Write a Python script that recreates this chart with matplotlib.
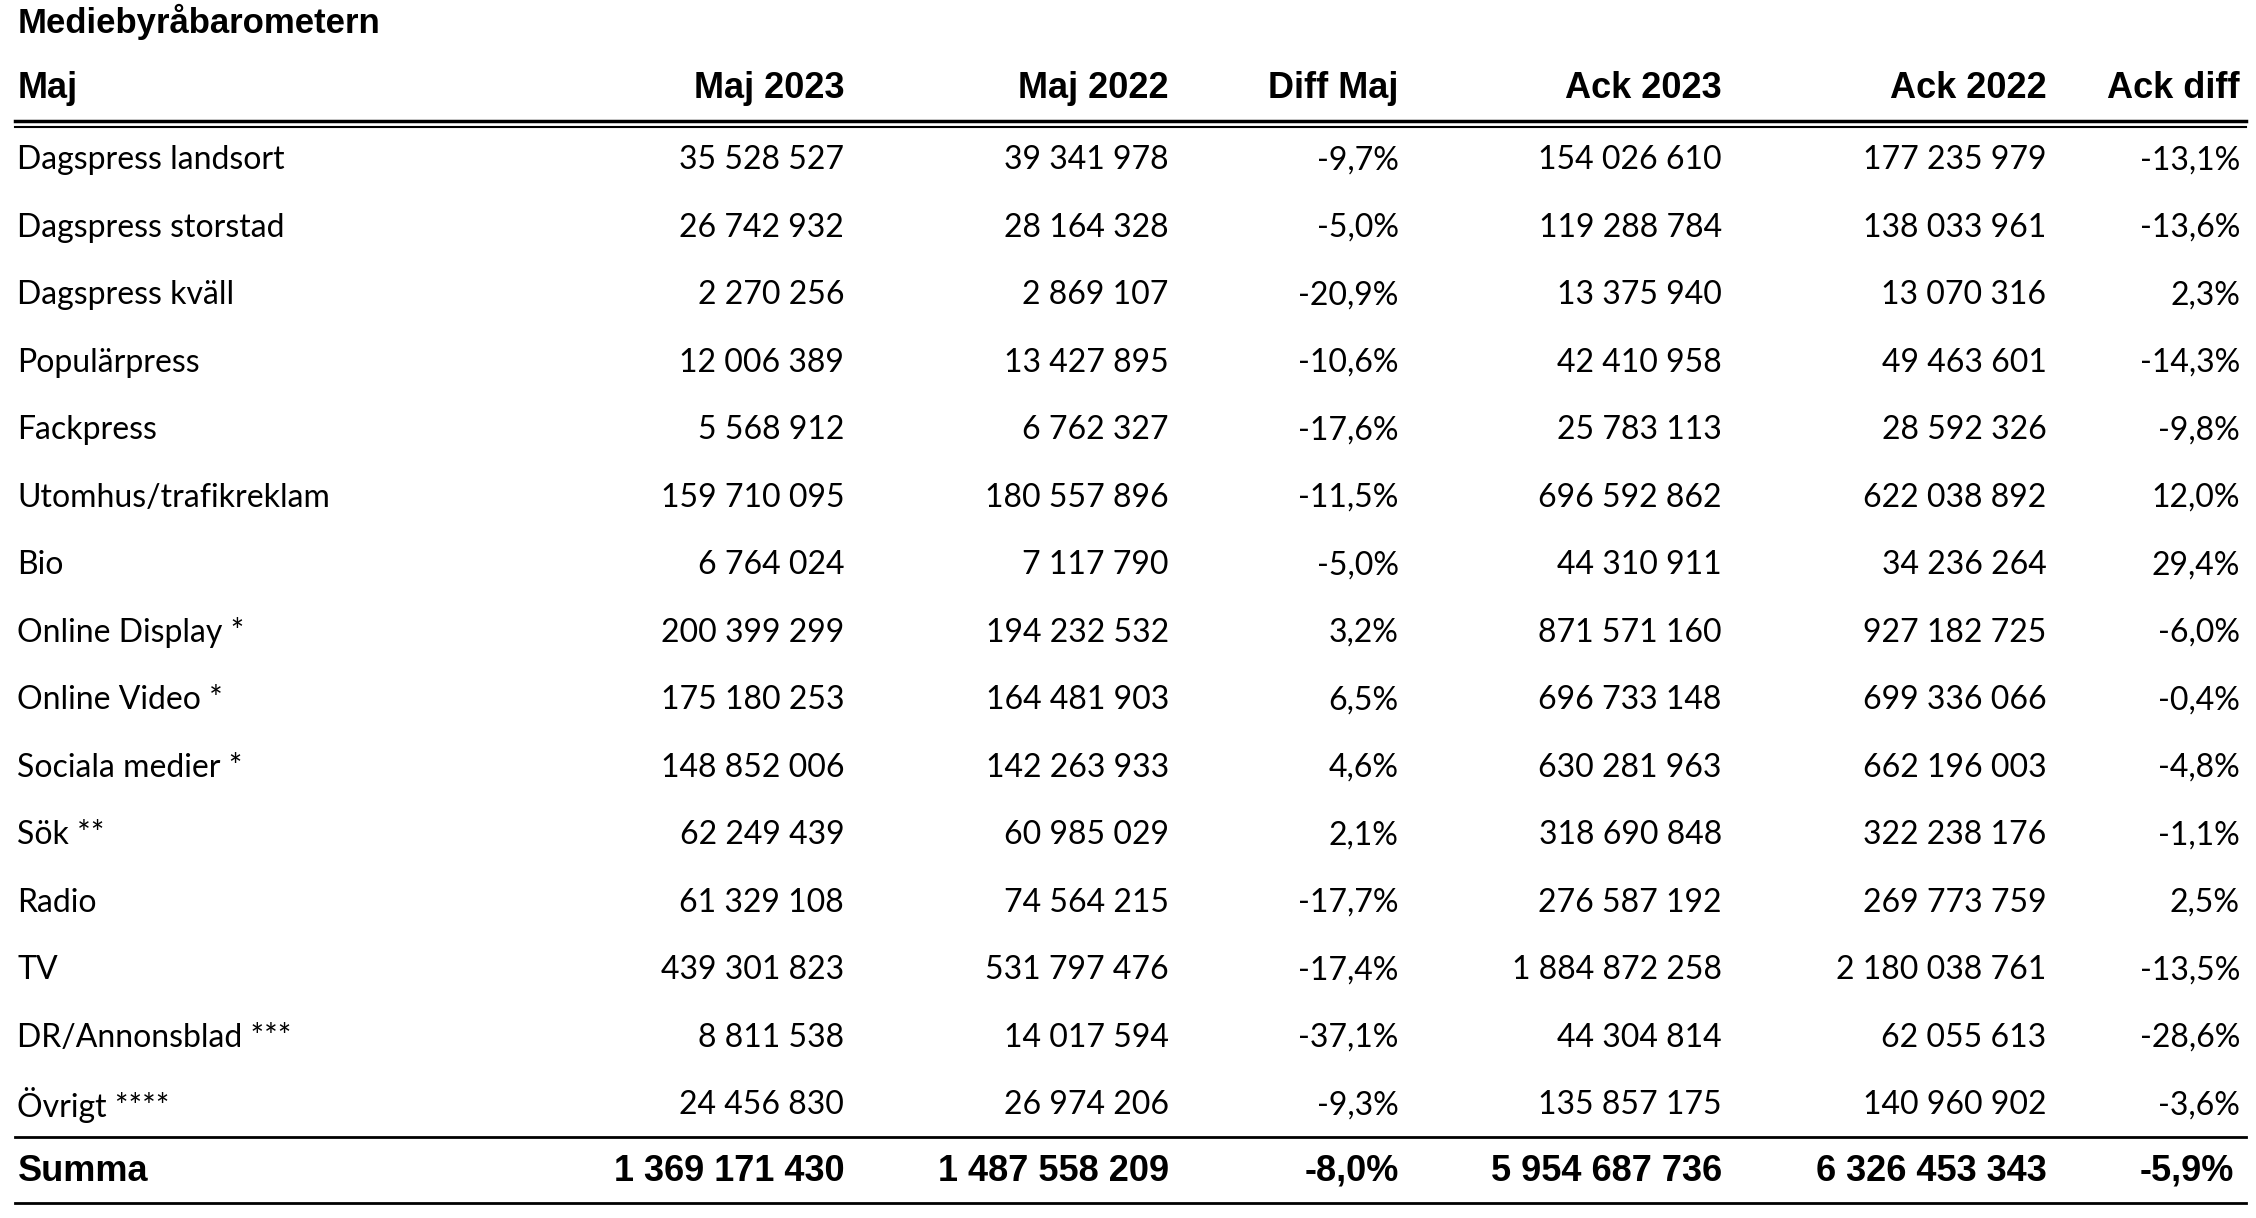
import matplotlib
matplotlib.use("Agg")
import matplotlib.pyplot as plt

title = "Mediebyråbarometern"
headers = ["Maj", "Maj 2023", "Maj 2022", "Diff Maj", "Ack 2023", "Ack 2022", "Ack diff"]
categories = ["Dagspress landsort", "Dagspress storstad", "Dagspress kväll", "Populärpress",
              "Fackpress", "Utomhus/trafikreklam", "Bio", "Online Display *", "Online Video *",
              "Sociala medier *", "Sök **", "Radio", "TV", "DR/Annonsblad ***", "Övrigt ****"]
maj2023 = ["35 528 527", "26 742 932", "2 270 256", "12 006 389", "5 568 912", "159 710 095",
           "6 764 024", "200 399 299", "175 180 253", "148 852 006", "62 249 439", "61 329 108",
           "439 301 823", "8 811 538", "24 456 830"]
maj2022 = ["39 341 978", "28 164 328", "2 869 107", "13 427 895", "6 762 327", "180 557 896",
           "7 117 790", "194 232 532", "164 481 903", "142 263 933", "60 985 029", "74 564 215",
           "531 797 476", "14 017 594", "26 974 206"]
diff_maj = ["-9,7%", "-5,0%", "-20,9%", "-10,6%", "-17,6%", "-11,5%", "-5,0%", "3,2%", "6,5%",
            "4,6%", "2,1%", "-17,7%", "-17,4%", "-37,1%", "-9,3%"]
ack2023 = ["154 026 610", "119 288 784", "13 375 940", "42 410 958", "25 783 113", "696 592 862",
           "44 310 911", "871 571 160", "696 733 148", "630 281 963", "318 690 848", "276 587 192",
           "1 884 872 258", "44 304 814", "135 857 175"]
ack2022 = ["177 235 979", "138 033 961", "13 070 316", "49 463 601", "28 592 326", "622 038 892",
           "34 236 264", "927 182 725", "699 336 066", "662 196 003", "322 238 176", "269 773 759",
           "2 180 038 761", "62 055 613", "140 960 902"]
ack_diff = ["-13,1%", "-13,6%", "2,3%", "-14,3%", "-9,8%", "12,0%", "29,4%", "-6,0%", "-0,4%",
            "-4,8%", "-1,1%", "2,5%", "-13,5%", "-28,6%", "-3,6%"]
summa = ["Summa", "1 369 171 430", "1 487 558 209", "-8,0%", "5 954 687 736", "6 326 453 343", "-5,9%"]

W, H = 1550, 837
fig = plt.figure(figsize=(22.56, 12.18), dpi=100)
ax = fig.add_axes([0, 0, 1, 1])
ax.set_xlim(0, W); ax.set_ylim(H, 0); ax.axis("off")

bold = dict(family=["Liberation Sans Narrow", "Liberation Sans"], weight="bold")
body = dict(family=["Lato", "DejaVu Sans"])
col_x = [12, 580, 803, 961, 1183, 1406, 1539]

ax.text(12, 15, title, fontsize=25, va="center", ha="left", **bold)
for i, h in enumerate(headers):
    ax.text(col_x[i], 61, h, fontsize=26, va="center", ha="left" if i == 0 else "right", **bold)
ax.plot([10, 1543], [83, 83], color="black", lw=2.5)
ax.plot([10, 1543], [87.5, 87.5], color="black", lw=1.5)

cols = [categories, maj2023, maj2022, diff_maj, ack2023, ack2022, ack_diff]
y0, dy = 110, 46.4
for r in range(len(categories)):
    y = y0 + r * dy
    for i, c in enumerate(cols):
        ax.text(col_x[i], y, c[r], fontsize=23, va="center", ha="left" if i == 0 else "right", **body)
ax.plot([10, 1543], [781, 781], color="black", lw=2)
for i, s in enumerate(summa):
    ax.text(col_x[i] - (4 if i == 6 else 0), 805, s, fontsize=26, va="center",
            ha="left" if i == 0 else "right", **bold)
ax.plot([10, 1543], [827, 827], color="black", lw=2)

fig.savefig("out.png", dpi=100, facecolor="white")
